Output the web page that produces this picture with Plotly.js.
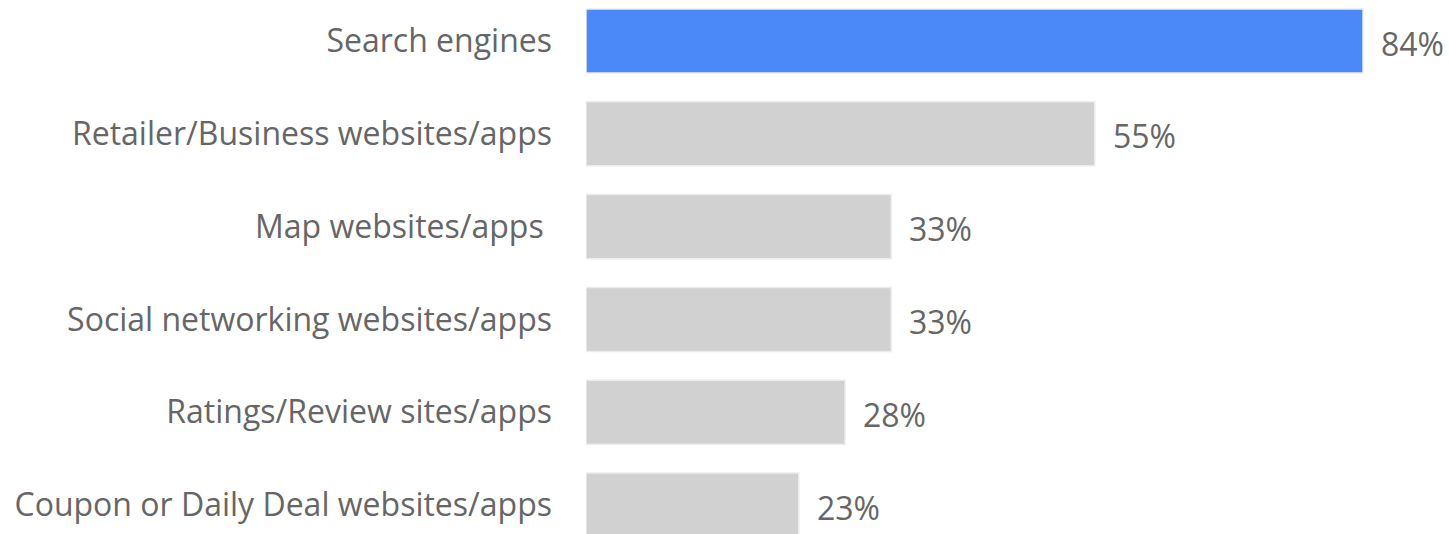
<!DOCTYPE html>
<html>
<head>
<meta charset="utf-8">
<script src="https://cdn.plot.ly/plotly-3.0.1.min.js"></script>
<style>html,body{margin:0;padding:0;background:#fff;}#chart{width:1449px;height:534px;}</style>
</head>
<body>
<div id="chart"></div>
<script>
const categories = ["Search engines", "Retailer/Business websites/apps", "Map websites/apps ", "Social networking websites/apps", "Ratings/Review sites/apps", "Coupon or Daily Deal websites/apps"];
const values = [84, 55, 33, 33, 28, 23];
const valueLabels = ["84%", "55%", "33%", "33%", "28%", "23%"];
const barColors = ["#4a89f7", "#d1d1d1", "#d1d1d1", "#d1d1d1", "#d1d1d1", "#d1d1d1"];

const trace = {
  type: 'bar',
  orientation: 'h',
  y: categories,
  x: values,
  width: 0.69,
  marker: {color: barColors, line: {color: '#ececec', width: 1.5}},
  hoverinfo: 'none'
};

const annotations = values.map((v, i) => ({
  x: v, y: categories[i], xref: 'x', yref: 'y',
  text: valueLabels[i], showarrow: false,
  xanchor: 'left', yanchor: 'middle', xshift: 16, yshift: -2,
  font: {family: 'Open Sans', size: 32, color: '#666666'}
}));

const layout = {
  width: 1449, height: 534,
  margin: {l: 586, r: 3, t: 0, b: 0, pad: 0},
  paper_bgcolor: '#ffffff', plot_bgcolor: '#ffffff',
  showlegend: false,
  bargap: 0.3,
  xaxis: {range: [0, 92.97], showgrid: false, zeroline: false, showticklabels: false, showline: false, ticks: ''},
  yaxis: {type: 'category', range: [5.312, -0.442], autorange: false, showgrid: false, zeroline: false, showline: false, ticks: '',
          ticklabelstandoff: 33,
          tickfont: {family: 'Open Sans', size: 32, color: '#666666'}},
  annotations: annotations
};

Plotly.newPlot('chart', [trace], layout, {displayModeBar: false, staticPlot: true});
</script>
</body>
</html>
